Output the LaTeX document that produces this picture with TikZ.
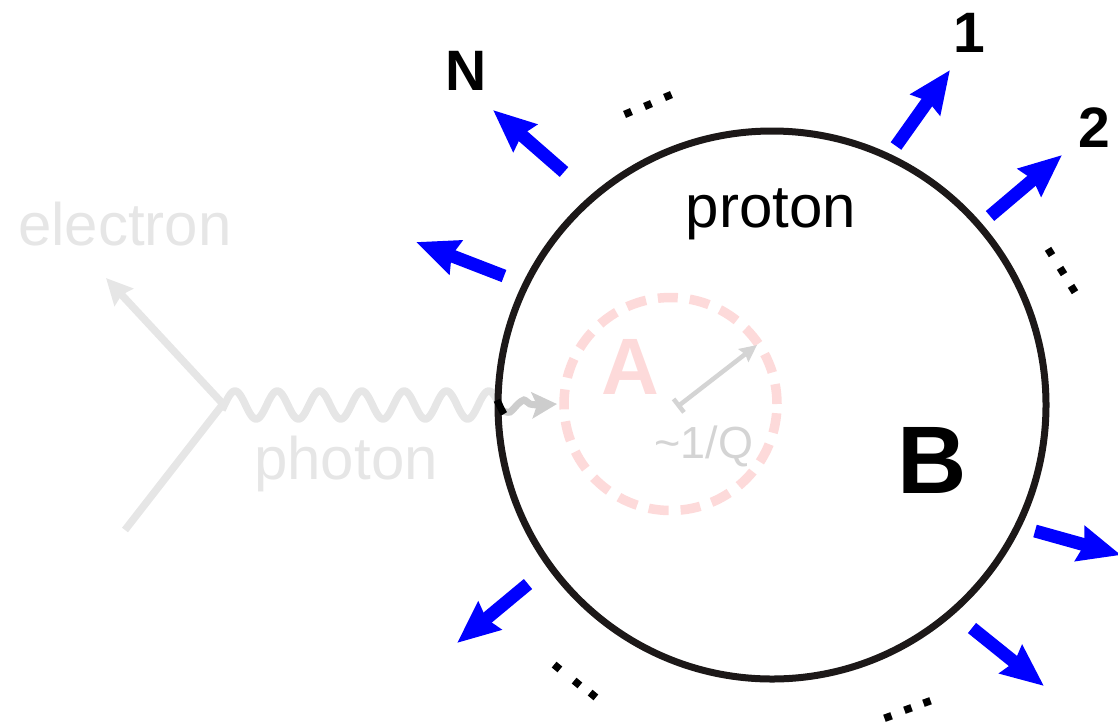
\documentclass[tikz,border=0pt]{standalone}
\usepackage{fontspec}
\setmainfont{Liberation Sans}
\usetikzlibrary{arrows.meta}
\definecolor{eblue}{RGB}{0,0,255}
\definecolor{lgrey}{RGB}{230,230,230}
\definecolor{mgrey}{RGB}{205,205,205}
\definecolor{rgrey}{RGB}{212,212,212}
\definecolor{pinkA}{RGB}{253,218,218}
\definecolor{circ}{RGB}{28,24,24}
\begin{document}
\begin{tikzpicture}[x=1pt,y=-1pt,
  outarrow/.style={draw=eblue, line width=13pt, -{Stealth[length=42pt,width=35pt,inset=4pt]}},
  dotsq/.style={fill=black, inner sep=0pt, minimum size=7.5pt, rectangle},
  numlbl/.style={inner sep=0pt, font=\bfseries\fontsize{57}{60}\selectfont},
  faint/.style={inner sep=0pt, text=lgrey, font=\fontsize{60}{70}\selectfont}]
\useasboundingbox (0,0) rectangle (1118,724);

% electron lines
\coordinate (v) at (223,404);
\coordinate (etip) at (106,278);
\coordinate (ein) at (125,530);
\draw[lgrey, line width=7.5pt] (ein) -- (v);
\draw[lgrey, line width=7.5pt, -{Stealth[length=26pt,width=25pt,inset=3pt]}] (v) -- (etip);
\node[faint] (electron) at (125,224) {electron};
\node[faint] (photon) at (346,464) {photon};

% photon wiggle
\draw[lgrey, line width=7.5pt, line join=round] plot[domain=222:500, samples=220, smooth] (\x, {405 - 14*sin(8.5106*(\x-224.4))});

% pink region A
\node[circle, draw=pinkA, line width=9.5pt, dash pattern=on 20pt off 12pt, minimum size=213pt, inner sep=0pt] (regA) at (670.5,404) {};
\node[inner sep=0pt, text=pinkA, font=\bfseries\fontsize{80}{90}\selectfont] (A) at (630,367) {A};
\coordinate (rs) at (677,407);
\coordinate (re) at (757,345);
\draw[rgrey, line width=4.5pt, {Bar[width=17pt]}-{Stealth[length=17pt,width=16pt,inset=2pt]}] (rs) -- (re);
\node[inner sep=0pt, text=rgrey, font=\fontsize{45}{50}\selectfont] (Q) at (704,446) {\textasciitilde1/Q};

% photon inside proton
\coordinate (ptip) at (557,404);
\draw[mgrey, line width=7pt, -{Stealth[length=25pt,width=26pt,inset=5pt]}] plot[smooth] coordinates {(503,411) (510,412) (518,404) (524,400) (530,404) (538,405)} -- (ptip);

% proton
\node[circle, draw=circ, line width=7pt, minimum size=548pt, inner sep=0pt] (proton) at (772,405) {};
\draw[black, line width=7pt] plot[domain=497:504, samples=12, smooth] (\x, {405 - 14*sin(8.5106*(\x-224.4))});
\node[inner sep=0pt, font=\fontsize{60}{70}\selectfont] (plbl) at (771,214) {proton};
\node[inner sep=0pt, font=\bfseries\fontsize{96}{100}\selectfont] (B) at (932,460) {B};

% outgoing arrows
\coordinate (t1) at (896,146); \coordinate (h1) at (950,70);
\coordinate (t2) at (990,216); \coordinate (h2) at (1062,155);
\coordinate (tN) at (564,172); \coordinate (hN) at (493,110);
\coordinate (tL) at (504,276); \coordinate (hL) at (416,242);
\coordinate (tLL) at (528,584); \coordinate (hLL) at (457,643);
\coordinate (tLR) at (972,628); \coordinate (hLR) at (1044,686);
\coordinate (tR) at (1035,531); \coordinate (hR) at (1121,555);
\draw[outarrow] (t1) -- (h1);
\draw[outarrow] (t2) -- (h2);
\draw[outarrow] (tN) -- (hN);
\draw[outarrow] (tL) -- (hL);
\draw[outarrow] (tLL) -- (hLL);
\draw[outarrow] (tLR) -- (hLR);
\draw[outarrow] (tR) -- (hR);

\node[numlbl] (n1) at (969,33) {1};
\node[numlbl] (n2) at (1094,128) {2};
\node[numlbl] (nN) at (466,71) {N};

% dots
\node[dotsq, rotate=23] (d1) at (628,113) {};
\node[dotsq, rotate=23] (d2) at (648,105) {};
\node[dotsq, rotate=23] (d3) at (668,96) {};
\node[dotsq, rotate=32] (d4) at (1050,252) {};
\node[dotsq, rotate=32] (d5) at (1062,271) {};
\node[dotsq, rotate=32] (d6) at (1073,289) {};
\node[dotsq, rotate=50] (d7) at (557,667) {};
\node[dotsq, rotate=50] (d8) at (577,683) {};
\node[dotsq, rotate=50] (d9) at (593,695) {};
\node[dotsq, rotate=20] (d10) at (888,717) {};
\node[dotsq, rotate=20] (d11) at (908,709) {};
\node[dotsq, rotate=20] (d12) at (927,702) {};
\end{tikzpicture}
\end{document}
